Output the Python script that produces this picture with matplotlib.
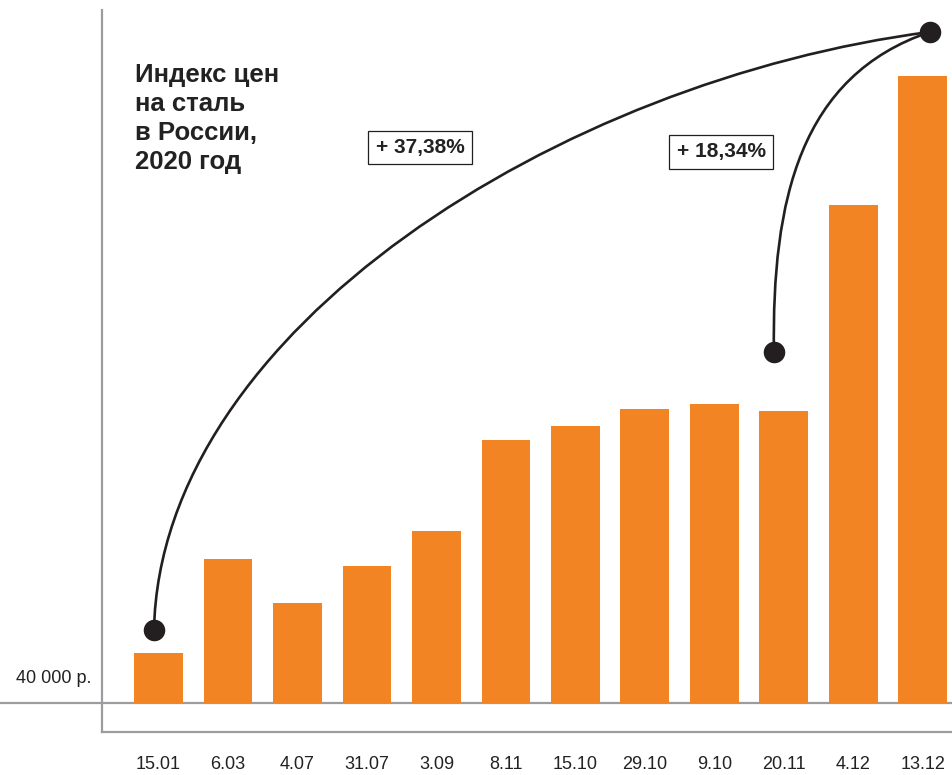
import matplotlib.pyplot as plt
from matplotlib.path import Path
from matplotlib.patches import PathPatch

plt.rcParams['font.family'] = ['Liberation Sans', 'DejaVu Sans']

# data
dates = ['15.01', '6.03', '4.07', '31.07', '3.09', '8.11',
         '15.10', '29.10', '9.10', '20.11', '4.12', '13.12']
prices = [41340, 43860, 42680, 43670, 44610, 47040,
          47420, 47870, 48010, 47820, 53340, 56790]
base = 40000
base_label = '40 000 р.'
title = 'Индекс цен\nна сталь\nв России,\n2020 год'
growth_year = '+ 37,38%'
growth_dec = '+ 18,34%'

ORANGE = '#F28423'
DARK = '#231f20'
GREY = '#9c9ca0'

fig = plt.figure(figsize=(9.53, 7.75), dpi=100)
ax = fig.add_axes([0, 0, 1, 1])
ax.set_xlim(-2.2806, 11.4317)
ax.set_ylim(38072, 58826)
ax.axis('off')

x = list(range(len(dates)))
ax.bar(x, [p - base for p in prices], bottom=base, width=0.705,
       color=ORANGE, zorder=2)

# axes lines
ax.axhline(base, color=GREY, lw=1.6, zorder=1)
ax.plot([-0.813, -0.813], [39223, 58560], color=GREY, lw=1.6, zorder=1)
ax.plot([-0.813, 11.5], [39223, 39223], color=GREY, lw=1.6, zorder=1)

for xi, d in zip(x, dates):
    ax.text(xi, 38340, d, ha='center', va='center', fontsize=13, color='#222222')
ax.text(-0.965, 40650, base_label, ha='right', va='center', fontsize=13,
        color='#222222')

ax.text(-0.34, 57150, title, ha='left', va='top', fontsize=18.5,
        fontweight='bold', color='#222222', linespacing=1.27)

# dots linking the compared bars
p_start = (x[0] - 0.065, prices[0] + 615)
p_end = (x[-1] + 0.10, prices[-1] + 1180)
p_mid = (x[9] - 0.145, prices[9] + 1580)

def curve(p0, c1, c2, p3):
    path = Path([p0, c1, c2, p3],
                [Path.MOVETO, Path.CURVE4, Path.CURVE4, Path.CURVE4])
    ax.add_patch(PathPatch(path, fill=False, ec=DARK, lw=1.9, zorder=3))

curve(p_start, (p_start[0] + 0.09, p_start[1] + 8030),
      (5.777, 56684), p_end)
curve(p_mid, (p_mid[0] - 0.03, p_mid[1] + 4070),
      (9.23, 56800), p_end)

for p in (p_start, p_end, p_mid):
    ax.plot(*p, 'o', color=DARK, ms=14.5, zorder=4)

box = dict(boxstyle='square,pad=0.35', fc='white', ec=DARK, lw=0.9)
ax.text(3.763, 54877, growth_year, ha='center', va='center', fontsize=15,
        fontweight='bold', color='#222222', bbox=box, zorder=5)
ax.text(8.094, 54756, growth_dec, ha='center', va='center', fontsize=15,
        fontweight='bold', color='#222222', bbox=box, zorder=5)

fig.savefig('out.png', dpi=100)
